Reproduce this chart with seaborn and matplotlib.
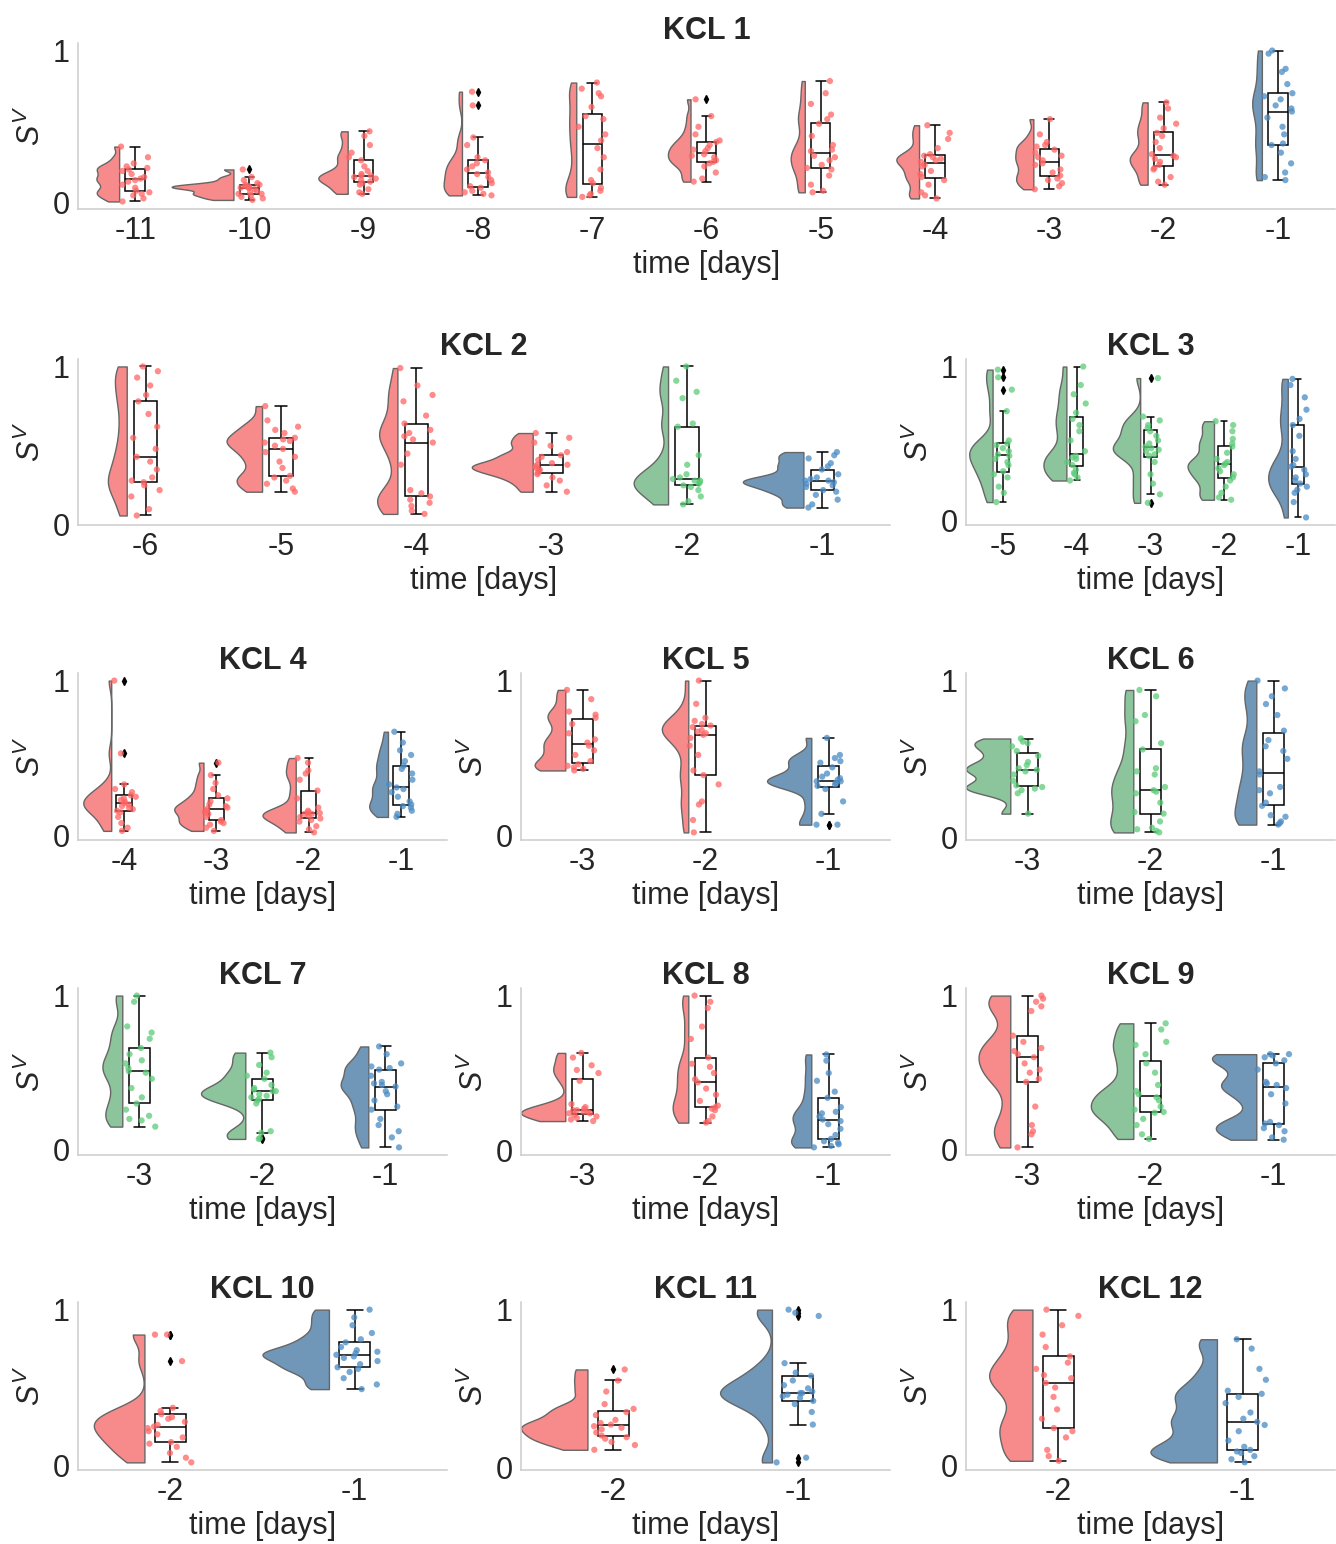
import numpy as np
import pandas as pd
import seaborn as sns
import matplotlib.pyplot as plt

np.random.seed(7)  # nur fuer den Jitter der Punkte

# === Daten: S^V pro Tag, je Kohorte ===
kcl1_days = [-11, -10, -9, -8, -7, -6, -5, -4, -3, -2, -1]
kcl1_groups = ["R"] * 10 + ["B"]
kcl1_vals = [
    [0.01, 0.03, 0.05, 0.06, 0.07, 0.08, 0.10, 0.12, 0.14, 0.15, 0.16, 0.17, 0.19, 0.21, 0.22, 0.23, 0.24, 0.26, 0.30, 0.37],
    [0.02, 0.03, 0.04, 0.05, 0.06, 0.06, 0.07, 0.08, 0.09, 0.10, 0.10, 0.10, 0.11, 0.11, 0.12, 0.12, 0.13, 0.15, 0.17, 0.22],
    [0.06, 0.07, 0.09, 0.12, 0.13, 0.14, 0.15, 0.16, 0.17, 0.18, 0.18, 0.19, 0.21, 0.24, 0.28, 0.30, 0.33, 0.38, 0.44, 0.47],
    [0.05, 0.06, 0.07, 0.08, 0.10, 0.11, 0.13, 0.15, 0.17, 0.19, 0.20, 0.22, 0.24, 0.26, 0.28, 0.30, 0.38, 0.43, 0.64, 0.73],
    [0.04, 0.05, 0.06, 0.08, 0.10, 0.13, 0.15, 0.22, 0.30, 0.36, 0.41, 0.45, 0.50, 0.55, 0.57, 0.63, 0.70, 0.72, 0.75, 0.79],
    [0.14, 0.16, 0.20, 0.24, 0.26, 0.27, 0.28, 0.30, 0.31, 0.32, 0.34, 0.35, 0.36, 0.38, 0.40, 0.41, 0.45, 0.50, 0.57, 0.68],
    [0.07, 0.08, 0.12, 0.18, 0.22, 0.23, 0.25, 0.28, 0.30, 0.31, 0.34, 0.35, 0.38, 0.44, 0.52, 0.55, 0.58, 0.65, 0.72, 0.80],
    [0.03, 0.05, 0.07, 0.12, 0.15, 0.17, 0.19, 0.21, 0.24, 0.25, 0.27, 0.28, 0.29, 0.30, 0.31, 0.32, 0.36, 0.42, 0.46, 0.51],
    [0.09, 0.11, 0.13, 0.15, 0.16, 0.18, 0.20, 0.22, 0.25, 0.26, 0.28, 0.30, 0.31, 0.33, 0.35, 0.37, 0.38, 0.40, 0.45, 0.55],
    [0.12, 0.14, 0.17, 0.22, 0.23, 0.25, 0.27, 0.29, 0.30, 0.31, 0.32, 0.36, 0.40, 0.44, 0.46, 0.49, 0.52, 0.56, 0.62, 0.66],
    [0.15, 0.17, 0.20, 0.26, 0.33, 0.38, 0.39, 0.45, 0.50, 0.56, 0.60, 0.62, 0.64, 0.68, 0.70, 0.72, 0.78, 0.86, 0.88, 0.98, 1.0],
]

kcl2_days = [-6, -5, -4, -3, -2, -1]
kcl2_groups = ["R", "R", "R", "R", "G", "B"]
kcl2_vals = [
    [0.06, 0.10, 0.18, 0.22, 0.25, 0.27, 0.28, 0.30, 0.35, 0.40, 0.43, 0.48, 0.55, 0.62, 0.70, 0.78, 0.82, 0.88, 0.93, 0.97, 1.0],
    [0.21, 0.23, 0.26, 0.28, 0.30, 0.31, 0.36, 0.40, 0.43, 0.46, 0.48, 0.50, 0.52, 0.53, 0.54, 0.55, 0.58, 0.60, 0.62, 0.66, 0.75],
    [0.07, 0.09, 0.12, 0.14, 0.16, 0.18, 0.20, 0.22, 0.38, 0.45, 0.52, 0.54, 0.56, 0.58, 0.60, 0.64, 0.69, 0.78, 0.82, 0.88, 0.99],
    [0.21, 0.25, 0.28, 0.30, 0.32, 0.33, 0.34, 0.35, 0.36, 0.37, 0.38, 0.38, 0.39, 0.41, 0.43, 0.44, 0.46, 0.50, 0.52, 0.55, 0.58],
    [0.13, 0.15, 0.18, 0.22, 0.24, 0.25, 0.26, 0.27, 0.28, 0.28, 0.29, 0.30, 0.32, 0.38, 0.44, 0.62, 0.64, 0.80, 0.84, 0.91, 1.0],
    [0.11, 0.13, 0.16, 0.19, 0.21, 0.22, 0.24, 0.25, 0.26, 0.27, 0.28, 0.28, 0.29, 0.30, 0.32, 0.35, 0.37, 0.39, 0.42, 0.44, 0.46],
]

kcl3_days = [-5, -4, -3, -2, -1]
kcl3_groups = ["G", "G", "G", "G", "B"]
kcl3_vals = [
    [0.12, 0.18, 0.22, 0.28, 0.30, 0.32, 0.36, 0.38, 0.40, 0.42, 0.43, 0.45, 0.47, 0.49, 0.50, 0.52, 0.71, 0.85, 0.93, 0.98],
    [0.26, 0.28, 0.30, 0.31, 0.33, 0.36, 0.38, 0.40, 0.41, 0.42, 0.45, 0.52, 0.58, 0.62, 0.66, 0.70, 0.76, 0.82, 0.88, 1.0],
    [0.115, 0.17, 0.24, 0.30, 0.38, 0.42, 0.43, 0.45, 0.46, 0.47, 0.48, 0.50, 0.52, 0.55, 0.58, 0.60, 0.62, 0.65, 0.675, 0.925],
    [0.135, 0.15, 0.18, 0.22, 0.26, 0.28, 0.30, 0.32, 0.34, 0.36, 0.37, 0.38, 0.40, 0.44, 0.48, 0.50, 0.53, 0.58, 0.62, 0.645],
    [0.02, 0.12, 0.18, 0.20, 0.22, 0.24, 0.26, 0.28, 0.30, 0.33, 0.35, 0.36, 0.40, 0.45, 0.55, 0.62, 0.66, 0.72, 0.80, 0.88, 0.92],
]

kcl4_days = [-4, -3, -2, -1]
kcl4_groups = ["R", "R", "R", "B"]
kcl4_vals = [
    [0.03, 0.05, 0.08, 0.12, 0.15, 0.16, 0.17, 0.18, 0.19, 0.20, 0.21, 0.22, 0.23, 0.24, 0.25, 0.26, 0.28, 0.30, 0.33, 0.53, 1.0],
    [0.03, 0.05, 0.07, 0.08, 0.09, 0.10, 0.12, 0.14, 0.15, 0.16, 0.17, 0.18, 0.19, 0.20, 0.22, 0.24, 0.26, 0.30, 0.34, 0.39, 0.47],
    [0.02, 0.04, 0.06, 0.09, 0.10, 0.11, 0.12, 0.13, 0.14, 0.14, 0.145, 0.15, 0.16, 0.18, 0.24, 0.29, 0.36, 0.40, 0.42, 0.47, 0.50],
    [0.12, 0.14, 0.16, 0.18, 0.19, 0.20, 0.22, 0.25, 0.28, 0.30, 0.31, 0.33, 0.36, 0.40, 0.43, 0.45, 0.48, 0.52, 0.55, 0.60, 0.67],
]

kcl5_days = [-3, -2, -1]
kcl5_groups = ["R", "R", "B"]
kcl5_vals = [
    [0.42, 0.43, 0.44, 0.45, 0.46, 0.48, 0.52, 0.55, 0.58, 0.60, 0.62, 0.66, 0.72, 0.76, 0.78, 0.80, 0.88, 0.94],
    [0.02, 0.10, 0.20, 0.22, 0.33, 0.39, 0.42, 0.52, 0.58, 0.63, 0.65, 0.66, 0.67, 0.68, 0.70, 0.71, 0.72, 0.74, 0.76, 0.85, 1.0],
    [0.07, 0.07, 0.14, 0.22, 0.30, 0.32, 0.33, 0.34, 0.35, 0.35, 0.36, 0.37, 0.38, 0.40, 0.44, 0.47, 0.48, 0.50, 0.52, 0.63],
]

kcl6_days = [-3, -2, -1]
kcl6_groups = ["G", "G", "B"]
kcl6_vals = [
    [0.15, 0.28, 0.30, 0.31, 0.32, 0.33, 0.36, 0.40, 0.42, 0.43, 0.44, 0.46, 0.48, 0.52, 0.55, 0.58, 0.60, 0.61, 0.63],
    [0.03, 0.04, 0.05, 0.06, 0.10, 0.15, 0.16, 0.22, 0.28, 0.29, 0.30, 0.32, 0.40, 0.42, 0.44, 0.56, 0.60, 0.74, 0.78, 0.90, 0.94],
    [0.08, 0.09, 0.10, 0.13, 0.14, 0.20, 0.22, 0.28, 0.30, 0.32, 0.40, 0.42, 0.50, 0.55, 0.58, 0.62, 0.68, 0.78, 0.85, 0.90, 0.95, 1.0],
]

kcl7_days = [-3, -2, -1]
kcl7_groups = ["G", "G", "B"]
kcl7_vals = [
    [0.15, 0.19, 0.20, 0.22, 0.26, 0.30, 0.34, 0.40, 0.46, 0.50, 0.51, 0.53, 0.56, 0.58, 0.62, 0.66, 0.72, 0.76, 0.80, 0.96, 1.0],
    [0.07, 0.075, 0.11, 0.12, 0.30, 0.32, 0.33, 0.34, 0.35, 0.36, 0.38, 0.38, 0.39, 0.40, 0.42, 0.46, 0.48, 0.50, 0.55, 0.60, 0.63],
    [0.015, 0.08, 0.12, 0.16, 0.20, 0.26, 0.28, 0.32, 0.36, 0.38, 0.41, 0.42, 0.43, 0.44, 0.48, 0.52, 0.53, 0.54, 0.56, 0.62, 0.67],
]

kcl8_days = [-3, -2, -1]
kcl8_groups = ["R", "R", "B"]
kcl8_vals = [
    [0.19, 0.20, 0.21, 0.22, 0.23, 0.24, 0.24, 0.25, 0.25, 0.26, 0.26, 0.27, 0.28, 0.30, 0.45, 0.50, 0.52, 0.55, 0.60, 0.63],
    [0.18, 0.19, 0.22, 0.26, 0.27, 0.28, 0.29, 0.32, 0.36, 0.40, 0.44, 0.46, 0.50, 0.54, 0.56, 0.60, 0.72, 0.80, 0.92, 0.96, 1.0],
    [0.02, 0.03, 0.04, 0.05, 0.06, 0.075, 0.10, 0.14, 0.17, 0.19, 0.20, 0.22, 0.24, 0.25, 0.28, 0.34, 0.38, 0.45, 0.50, 0.58, 0.62],
]

kcl9_days = [-3, -2, -1]
kcl9_groups = ["R", "G", "B"]
kcl9_vals = [
    [0.015, 0.10, 0.12, 0.16, 0.28, 0.44, 0.46, 0.50, 0.52, 0.56, 0.60, 0.62, 0.64, 0.66, 0.70, 0.74, 0.90, 0.93, 0.96, 0.98, 1.0],
    [0.07, 0.10, 0.16, 0.20, 0.24, 0.245, 0.26, 0.28, 0.32, 0.34, 0.36, 0.38, 0.42, 0.50, 0.56, 0.62, 0.68, 0.70, 0.78, 0.82],
    [0.065, 0.08, 0.12, 0.14, 0.16, 0.17, 0.18, 0.30, 0.36, 0.40, 0.42, 0.43, 0.44, 0.52, 0.56, 0.58, 0.60, 0.61, 0.62, 0.62],
]

kcl10_days = [-2, -1]
kcl10_groups = ["R", "B"]
kcl10_vals = [
    [0.02, 0.05, 0.08, 0.12, 0.14, 0.15, 0.18, 0.20, 0.22, 0.24, 0.25, 0.26, 0.28, 0.30, 0.31, 0.33, 0.35, 0.37, 0.67, 0.84, 0.84],
    [0.49, 0.52, 0.56, 0.60, 0.62, 0.63, 0.65, 0.67, 0.69, 0.70, 0.71, 0.72, 0.73, 0.74, 0.76, 0.79, 0.81, 0.85, 0.90, 0.95, 1.0],
]

kcl11_days = [-2, -1]
kcl11_groups = ["R", "B"]
kcl11_vals = [
    [0.11, 0.14, 0.16, 0.18, 0.19, 0.20, 0.22, 0.24, 0.25, 0.26, 0.27, 0.28, 0.30, 0.33, 0.35, 0.37, 0.40, 0.48, 0.55, 0.62],
    [0.03, 0.06, 0.27, 0.35, 0.40, 0.42, 0.44, 0.45, 0.46, 0.47, 0.47, 0.48, 0.50, 0.52, 0.55, 0.58, 0.60, 0.66, 0.96, 0.98, 1.0],
]

kcl12_days = [-2, -1]
kcl12_groups = ["R", "B"]
kcl12_vals = [
    [0.03, 0.06, 0.10, 0.18, 0.22, 0.24, 0.30, 0.36, 0.44, 0.50, 0.53, 0.56, 0.58, 0.62, 0.66, 0.70, 0.76, 0.84, 0.90, 0.96, 1.0],
    [0.02, 0.04, 0.06, 0.08, 0.09, 0.10, 0.12, 0.16, 0.22, 0.26, 0.28, 0.30, 0.34, 0.40, 0.44, 0.46, 0.48, 0.55, 0.62, 0.75, 0.81],
]

panels = [
    ("KCL 1", kcl1_days, kcl1_groups, kcl1_vals),
    ("KCL 2", kcl2_days, kcl2_groups, kcl2_vals),
    ("KCL 3", kcl3_days, kcl3_groups, kcl3_vals),
    ("KCL 4", kcl4_days, kcl4_groups, kcl4_vals),
    ("KCL 5", kcl5_days, kcl5_groups, kcl5_vals),
    ("KCL 6", kcl6_days, kcl6_groups, kcl6_vals),
    ("KCL 7", kcl7_days, kcl7_groups, kcl7_vals),
    ("KCL 8", kcl8_days, kcl8_groups, kcl8_vals),
    ("KCL 9", kcl9_days, kcl9_groups, kcl9_vals),
    ("KCL 10", kcl10_days, kcl10_groups, kcl10_vals),
    ("KCL 11", kcl11_days, kcl11_groups, kcl11_vals),
    ("KCL 12", kcl12_days, kcl12_groups, kcl12_vals),
]

# === Farben (Dummy-Level, damit alle Halbviolinen links liegen) ===
hue_order = ["R", "_a", "G", "_b", "B"]
violin_pal = {"R": "#f78a8a", "_a": "white", "G": "#8cc49b", "_b": "white", "B": "#7097b8"}
dot_pal = {"R": "#ff6464", "_a": "white", "G": "#5ccc78", "_b": "white", "B": "#4a8bc4"}

# maximale Breite der Halbviolinen je Panel (flache Kante bei Tag - 0.14)
violin_widths = [0.54, 0.45, 0.37] + [0.36] * 9
EDGE = 0.14

# === Layout in Pixeln ===
W, H = 1336, 1544
rows = [(43, 209), (359, 525), (673, 840), (988, 1155), (1302, 1470)]
cols3 = [(78, 447), (521, 890), (966, 1335)]
rects = [(78, 1335, 0), (78, 890, 1), (966, 1335, 1)]
rects += [(c0, c1, r) for r in (2, 3, 4) for (c0, c1) in cols3]

sns.set_theme(style="white")
plt.rcParams["font.family"] = ["Liberation Sans", "DejaVu Sans"]
plt.rcParams["mathtext.fontset"] = "custom"
plt.rcParams["mathtext.it"] = "Liberation Sans:italic"
plt.rcParams["mathtext.rm"] = "Liberation Sans"

fig = plt.figure(figsize=(W / 100, H / 100), dpi=100)

for (title, days, groups, vals), (x0, x1, r), vw in zip(panels, rects, violin_widths):
    top, bot = rows[r]
    ax = fig.add_axes([x0 / W, 1 - bot / H, (x1 - x0) / W, (bot - top) / H])

    df = pd.DataFrame(
        [(d, g, v) for d, g, vs in zip(days, groups, vals) for v in vs],
        columns=["day", "grp", "val"],
    )
    df["pos"] = df["day"] - EDGE - vw / 2

    sns.violinplot(
        data=df, x="pos", y="val", hue="grp", hue_order=hue_order,
        palette=violin_pal, native_scale=True, split=True, dodge=False,
        inner=None, cut=0, bw_adjust=0.5, width=vw, common_norm=True,
        linewidth=1, linecolor="#666666", saturation=1, legend=False, ax=ax,
    )
    sns.boxplot(
        data=df, x="day", y="val", native_scale=True, width=0.17,
        color="white", linecolor="black", linewidth=1.1, saturation=1,
        fliersize=4,
        flierprops=dict(marker="d", markerfacecolor="black", markeredgecolor="black"),
        ax=ax,
    )
    sns.stripplot(
        data=df, x="day", y="val", hue="grp", hue_order=hue_order,
        palette=dot_pal, native_scale=True, dodge=False, jitter=0.13,
        size=4.5, alpha=0.75, linewidth=0, legend=False, ax=ax,
    )

    ax.set_xlim(min(days) - 0.5, max(days) + 0.5)
    ax.set_xticks(days)
    ax.set_xticklabels([str(d) for d in days])
    ax.set_yticks([0, 1])
    ax.set_yticklabels(["0", "1"])
    ax.tick_params(labelsize=22, length=0)
    ax.tick_params(axis="x", pad=5)
    ax.tick_params(axis="y", pad=6)
    ax.set_title(title, fontsize=22, fontweight="bold", pad=3)
    ax.set_xlabel("time [days]", fontsize=22, labelpad=3)
    ax.set_ylabel(r"$S^V$", fontsize=22, labelpad=4)
    for s in ["top", "right"]:
        ax.spines[s].set_visible(False)
    for s in ["left", "bottom"]:
        ax.spines[s].set_color("#cccccc")
        ax.spines[s].set_linewidth(1.1)

fig.savefig("out.png", dpi=100)
